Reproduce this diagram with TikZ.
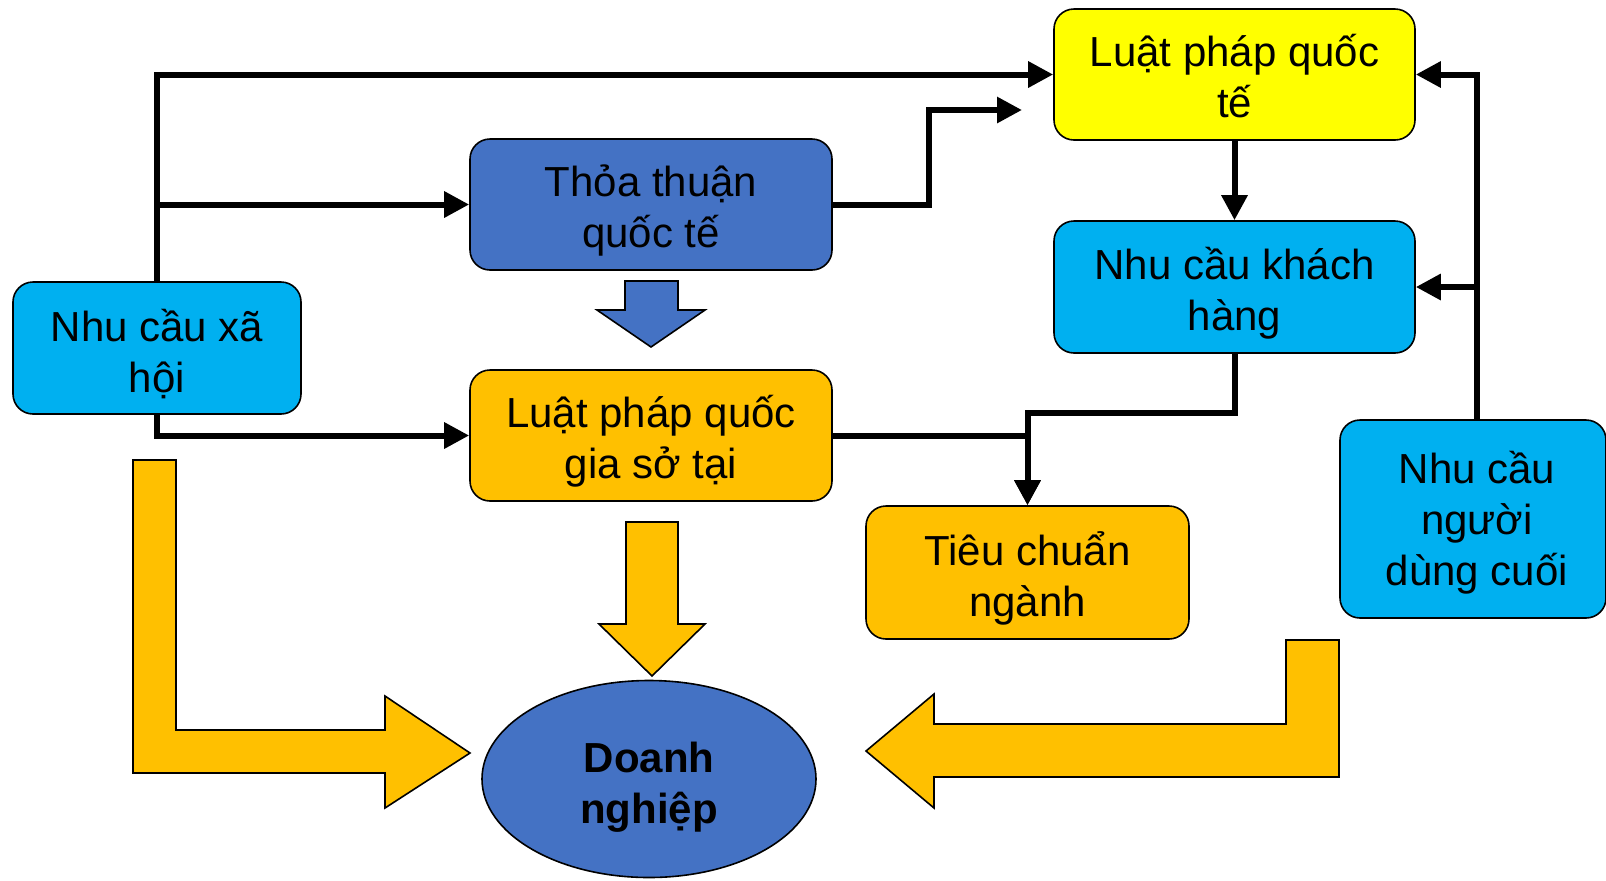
\documentclass[tikz,border=0pt]{standalone}
\usepackage{fontspec}
\setmainfont{Liberation Sans}
\usetikzlibrary{arrows.meta,shapes.geometric}
\definecolor{cyanbox}{HTML}{00B0F0}
\definecolor{bluebox}{HTML}{4472C4}
\definecolor{yellowbox}{HTML}{FFFF00}
\definecolor{orangebox}{HTML}{FFC000}
\begin{document}
\begin{tikzpicture}[x=0.5pt,y=-0.5pt]
% Styles
\tikzset{box/.style={draw=black,line width=0.8pt,rounded corners=10pt,inner sep=0pt},
  txt/.style={align=center,inner sep=0pt,yshift=-3pt,font=\fontsize{21}{25.5}\selectfont},
  link/.style={line width=3pt,-{Triangle[length=12.5pt,width=12.5pt]}},
  fat/.style={draw=black,line width=0.8pt}}
\useasboundingbox (0,0) rectangle (1606,880);

% the boxes
\node[box,fill=cyanbox,minimum width=144pt,minimum height=66pt,
  label={[txt]center:Nhu cầu xã\\hội}] (social) at (157,348) {};
\node[box,fill=bluebox,minimum width=181pt,minimum height=65.5pt,
  label={[txt]center:Thỏa thuận\\quốc tế}] (treaty) at (651,204.5) {};
\node[box,fill=orangebox,minimum width=181pt,minimum height=65.5pt,
  label={[txt]center:Luật pháp quốc\\gia sở tại}] (national) at (651,435.5) {};
\node[box,fill=yellowbox,minimum width=180.5pt,minimum height=65.5pt,
  label={[txt,yshift=2pt]center:Luật pháp quốc\\tế}] (intl) at (1234.5,74.5) {};
\node[box,fill=cyanbox,minimum width=180.5pt,minimum height=66pt,
  label={[txt]center:Nhu cầu khách\\hàng}] (customer) at (1234.5,287) {};
\node[box,fill=orangebox,minimum width=161.5pt,minimum height=66.5pt,
  label={[txt]center:Tiêu chuẩn\\ngành}] (standard) at (1027.5,572.5) {};
\node[box,fill=cyanbox,minimum width=133pt,minimum height=99pt,
  label={[txt,yshift=1pt,xshift=2pt]center:Nhu cầu\\người\\dùng cuối}] (enduser) at (1473,519) {};
\node[box,ellipse,rounded corners=0pt,fill=bluebox,minimum width=167pt,minimum height=98.5pt,
  label={[txt,yshift=-1pt,font=\fontsize{21}{25.5}\selectfont\bfseries]center:Doanh\\nghiệp}] (firm) at (649,779) {};

% the connectors
\coordinate (intlin) at (1022,110);
\coordinate (userup) at ([xshift=2pt]enduser.north);
\draw[link] (social.north) |- (intl.west);
\draw[link] (social.north |- treaty.west) -- (treaty.west);
\draw[link] (treaty.east) -- ++(96,0) |- (intlin);
\draw[link] (social.south) |- (national.west);
\draw[link] (national.east) -| (standard.north);
\draw[link] (customer.south) -- ++(0,59) -| (standard.north);
\draw[link] (intl.south) -- (customer.north);
\draw[link] (userup) |- (intl.east);
\draw[link] (userup |- customer.east) -- (customer.east);

% the block arrows
\draw[fat,fill=bluebox] (625,281) -- (678,281) -- (678,310) -- (705,310) -- (651,347)
  -- (597,310) -- (625,310) -- cycle;
\draw[fat,fill=orangebox] (626,522) -- (678,522) -- (678,624) -- (705,624) -- (652,676)
  -- (599,624) -- (626,624) -- cycle;
\draw[fat,fill=orangebox] (133,460) -- (176,460) -- (176,730) -- (385,730) -- (385,696)
  -- (470,753) -- (385,808) -- (385,773) -- (133,773) -- cycle;
\draw[fat,fill=orangebox] (1339,640) -- (1339,777) -- (934,777) -- (934,808) -- (866,751)
  -- (934,694) -- (934,724) -- (1286,724) -- (1286,640) -- cycle;
\end{tikzpicture}
\end{document}
